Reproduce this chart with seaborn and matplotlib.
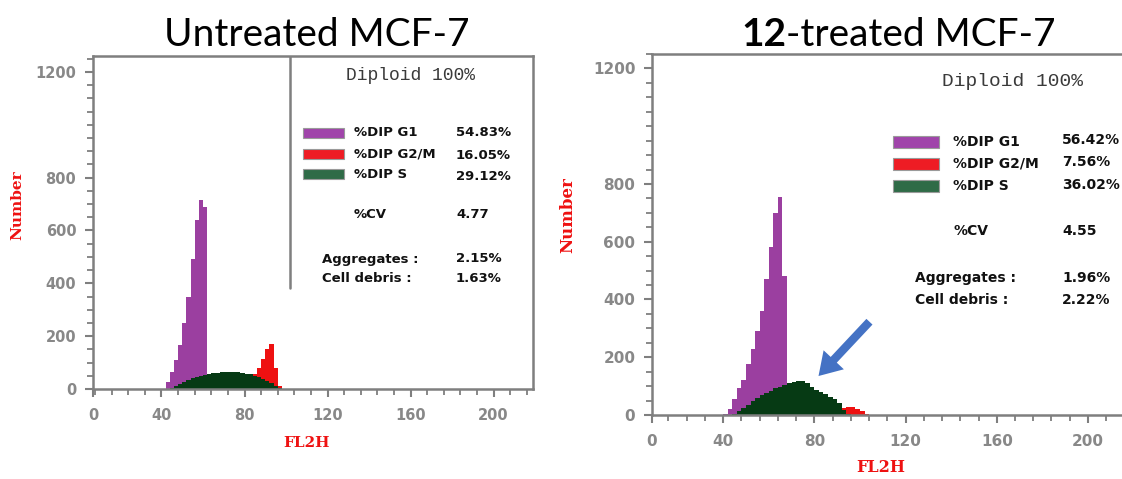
import numpy as np
import pandas as pd
import matplotlib
matplotlib.use("Agg")
import matplotlib.pyplot as plt
import seaborn as sns
from matplotlib.patches import Rectangle
from matplotlib.ticker import FixedLocator, MultipleLocator

# ---------------- data ----------------
components = ["G1", "G2/M", "S"]          # stacking: S bottom
channels_left = list(range(41, 100, 2))   # FL2H bin centres (bin width 2)
g1_left = [0, 25, 63, 98, 145, 222, 315, 450, 595, 666, 637,
           0, 0, 0, 0, 0, 0, 0, 0, 0, 0, 0, 0, 0, 0, 0, 0, 0, 0, 0]
s_left = [0, 0, 2, 12, 20, 28, 35, 40, 45, 49, 53, 56, 59, 62, 64, 65, 66,
          65, 63, 61, 58, 55, 50, 44, 37, 29, 21, 12, 4, 0]
g2_left = [0, 0, 0, 0, 0, 0, 0, 0, 0, 0, 0, 0, 0, 0, 0, 0, 0,
           0, 0, 0, 0, 0, 5, 36, 78, 121, 149, 68, 8, 0]

channels_right = list(range(41, 106, 2))
g1_right = [5, 22, 52, 81, 95, 139, 183, 231, 292, 394, 496, 608, 657, 376,
            0, 0, 0, 0, 0, 0, 0, 0, 0, 0, 0, 0, 0, 0, 0, 0, 0, 0, 0]
s_right = [0, 0, 3, 14, 25, 36, 47, 59, 68, 76, 84, 92, 98, 104, 110, 115,
           118, 119, 112, 98, 88, 80, 71, 64, 55, 42, 18, 5, 0, 0, 0, 0, 0]
g2_right = [0, 0, 0, 0, 0, 0, 0, 0, 0, 0, 0, 0, 0, 0, 0, 0, 0, 0, 0, 0, 0,
            0, 0, 0, 0, 0, 6, 21, 26, 22, 15, 5, 0]

titles = ["Untreated MCF-7", "-treated MCF-7"]
stat_labels = ["%DIP G1", "%DIP G2/M", "%DIP S"]
stats_left = ["54.83%", "16.05%", "29.12%"]
stats_right = ["56.42%", "7.56%", "36.02%"]
cv_left, cv_right = "4.77", "4.55"
aggr_left, aggr_right = "2.15%", "1.96%"
debris_left, debris_right = "1.63%", "2.22%"
x_ticks = [40, 80, 120, 160, 200]
y_ticks = [0, 200, 400, 600, 800, 1200]

# ---------------- style ----------------
sns.set_theme(style="white")
W, H = 1122, 479
fig = plt.figure(figsize=(W / 100, H / 100), dpi=100)

def fx(x):
    return x / W

def fy(y):
    return 1 - y / H

hist_pal = {"G1": "#9B3FA0", "G2/M": "#EE1111", "S": "#063A14"}
sw_pal = {"G1": "#A044AA", "G2/M": "#EE1C24", "S": "#2F6B47"}
GRAY = "#7f7f7f"
TXT = "#111111"

def make_df(ch, g1, g2, s):
    rows = []
    for comp, vals in zip(components, [g1, g2, s]):
        for c, v in zip(ch, vals):
            rows.append({"channel": float(c), "component": comp, "count": float(v)})
    return pd.DataFrame(rows)

def style_axes(ax, xlim, ylim, tick_fs):
    ax.set_xlim(*xlim)
    ax.set_ylim(*ylim)
    ax.set_xlabel("")
    ax.set_ylabel("")
    ax.xaxis.set_major_locator(FixedLocator([xlim[0]] + x_ticks))
    ax.set_xticklabels(["0"] + [str(t) for t in x_ticks])
    ax.xaxis.set_minor_locator(MultipleLocator(8))
    ax.yaxis.set_major_locator(FixedLocator(y_ticks))
    ax.set_yticklabels([str(t) for t in y_ticks])
    ax.yaxis.set_minor_locator(MultipleLocator(50))
    ax.tick_params(axis="both", which="major", length=6, width=1.5,
                   color=GRAY, labelcolor="#888888", labelsize=tick_fs,
                   direction="out", bottom=True, left=True)
    ax.tick_params(axis="x", which="major", pad=8)
    ax.tick_params(axis="y", which="major", pad=6)
    ax.tick_params(axis="both", which="minor", length=4, width=1.3,
                   color=GRAY, direction="out", bottom=True, left=True)
    for lab in ax.get_xticklabels() + ax.get_yticklabels():
        lab.set_fontweight("bold")
    for sp in ax.spines.values():
        sp.set_color(GRAY)
        sp.set_linewidth(1.8)
        sp.set_visible(True)
    ax.grid(False)

def draw_hist(ax, df):
    sns.histplot(data=df, x="channel", weights="count", hue="component",
                 hue_order=components, multiple="stack", binwidth=2,
                 binrange=(40, df["channel"].max() + 1),
                 element="bars", fill=True, alpha=1, linewidth=0,
                 edgecolor="none", antialiased=False, shrink=1,
                 palette=hist_pal, legend=False, ax=ax)

# ---------------- left panel ----------------
axL = fig.add_axes([fx(93), fy(389), fx(440), 333 / H])
draw_hist(axL, make_df(channels_left, g1_left, g2_left, s_left))
style_axes(axL, (7, 219), (0, 1260), 10.5)
axL.axvline((289 - 78) / 2.075, ymin=(389 - 288) / 333, ymax=1,
            color=GRAY, lw=1.8)

# ---------------- right panel ----------------
axR = fig.add_axes([fx(652), fy(415), fx(490), 361 / H])
draw_hist(axR, make_df(channels_right, g1_right, g2_right, s_right))
style_axes(axR, (8.8, 223.7), (0, 1250), 11)
axR.annotate("", xy=(81, 128), xytext=(105, 330),
             arrowprops=dict(arrowstyle="simple,head_length=0.8,head_width=1.0,tail_width=0.3",
                             mutation_scale=20, color="#4472C4", lw=0))

# ---------------- titles ----------------
title_font = ["Lato", "DejaVu Sans"]
fig.text(fx(317), fy(46), titles[0], ha="center", va="baseline",
         fontsize=28, family=title_font, color="black")
t12 = fig.text(fx(741), fy(46), "12", ha="left", va="baseline",
               fontsize=28, family=title_font, fontweight="bold", color="black")
fig.canvas.draw()
bb = t12.get_window_extent()
fig.text(bb.x1 / W, fy(46), titles[1], ha="left", va="baseline",
         fontsize=28, family=title_font, color="black")

# ---------------- axis labels ----------------
lab_kw = dict(color="#EE1111", family="DejaVu Serif", fontweight="bold")
fig.text(fx(17), fy(205), "Number", rotation=90, ha="center", va="center",
         fontsize=11, **lab_kw)
fig.text(fx(568), fy(215), "Number", rotation=90, ha="center", va="center",
         fontsize=12, **lab_kw)
fig.text(fx(307), fy(443), "FL2H", ha="center", va="center", fontsize=11, **lab_kw)
fig.text(fx(881), fy(467), "FL2H", ha="center", va="center", fontsize=11.5, **lab_kw)

# ---------------- stats boxes ----------------
def stats_block(cfg, vals, cv, aggr, debris):
    fs = cfg["fs"]
    fig.text(fx(cfg["dip"][0]), fy(cfg["dip"][1]), "Diploid 100%",
             ha="center", va="center", fontsize=cfg["dipfs"],
             family="Liberation Mono", color="#3a3a3a")
    for comp, lab, val, yl, yv in zip(components[:2] + ["S"], stat_labels, vals,
                                      cfg["ylab"], cfg["yval"]):
        x0, x1 = cfg["sw"]
        fig.add_artist(Rectangle((fx(x0), fy(yl + cfg["swh"] / 2)), fx(x1 - x0),
                                 cfg["swh"] / H, transform=fig.transFigure,
                                 facecolor=sw_pal[comp], edgecolor="#9a9a9a", lw=0.8))
        fig.text(fx(cfg["xlab"]), fy(yl), lab, ha="left", va="center",
                 fontsize=fs, fontweight="bold", color=TXT)
        fig.text(fx(cfg["xval"]), fy(yv), val, ha="left", va="center",
                 fontsize=fs, fontweight="bold", color=TXT)
    fig.text(fx(cfg["xlab"]), fy(cfg["ycv"]), "%CV", ha="left", va="center",
             fontsize=fs, fontweight="bold", color=TXT)
    fig.text(fx(cfg["xval"]), fy(cfg["ycv"]), cv, ha="left", va="center",
             fontsize=fs, fontweight="bold", color=TXT)
    fig.text(fx(cfg["xag"]), fy(cfg["yag"]), "Aggregates :", ha="left", va="center",
             fontsize=fs, fontweight="bold", color=TXT)
    fig.text(fx(cfg["xval"]), fy(cfg["yag"]), aggr, ha="left", va="center",
             fontsize=fs, fontweight="bold", color=TXT)
    fig.text(fx(cfg["xag"]), fy(cfg["ydb"]), "Cell debris :", ha="left", va="center",
             fontsize=fs, fontweight="bold", color=TXT)
    fig.text(fx(cfg["xval"]), fy(cfg["ydb"]), debris, ha="left", va="center",
             fontsize=fs, fontweight="bold", color=TXT)

cfgL = dict(fs=9.5, dipfs=13, dip=(411, 75), sw=(303, 344), swh=10,
            ylab=[133, 154, 174], yval=[133, 155, 176], xlab=354, xval=456,
            ycv=215, xag=322, yag=259, ydb=279)
cfgR = dict(fs=10, dipfs=14, dip=(1013, 82), sw=(893, 939), swh=12,
            ylab=[142, 164, 186], yval=[140, 162, 185], xlab=953, xval=1062,
            ycv=231, xag=915, yag=278, ydb=300)
stats_block(cfgL, stats_left, cv_left, aggr_left, debris_left)
stats_block(cfgR, stats_right, cv_right, aggr_right, debris_right)

fig.savefig("out.png", dpi=100)
